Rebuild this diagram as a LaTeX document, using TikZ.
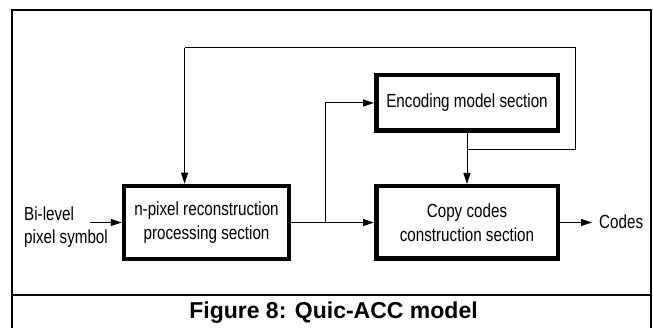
\documentclass[tikz,border=0pt]{standalone}
\usepackage{fontspec}
\setmainfont{Liberation Sans}
\newfontfamily\cond{Liberation Sans}[FakeStretch=0.8]
\usetikzlibrary{arrows.meta}
\begin{document}
\begin{tikzpicture}[x=1pt,y=-1pt,
  blk/.style={draw,line width=4.5pt,align=center,inner sep=0pt,
    font=\cond\fontsize{19}{24}\selectfont},
  lbl/.style={inner sep=0pt,font=\cond\fontsize{19}{23}\selectfont},
  conn/.style={line width=1pt,-{Triangle[length=11pt,width=7pt]}},
  plain/.style={line width=1pt}]
\useasboundingbox (0,0) rectangle (653,328);
\fill[white] (0,0) rectangle (653,328);
% frame
\draw[line width=2pt] (12,330) -- (12,10) -- (651,10) -- (651,330);
\draw[line width=2pt] (12,295) -- (651,295);
\node[font=\bfseries\fontsize{23}{26}\selectfont] (cap) at (333.5,313) {Figure 8: Quic-ACC model};
% blocks
\node[blk,minimum width=165pt,minimum height=73pt] (npx) at (206.5,222.5) {n-pixel reconstruction\\processing section};
\node[blk,minimum width=181.5pt,minimum height=55.5pt] (enc) at (467,103) {Encoding model section};
\node[blk,minimum width=181.5pt,minimum height=72.5pt] (copy) at (467,222.5) {Copy codes\\construction section};
% labels
\node[lbl,anchor=west,align=left] (in) at (24,227) {Bi-level\\pixel symbol};
\node[lbl,anchor=west] (out) at (599,222) {Codes};
\coordinate (inS) at (90,222.5);
\coordinate (outE) at (592,222.5);
\coordinate (br) at (325,222.5);
\coordinate (jn) at (467,150);
\coordinate (fbR) at (575,47.7);
\coordinate (fbL) at (184.6,47.7);
% connectors
\draw[conn] (inS) -- (npx.west);
\draw[conn] (npx.east) -- (copy.west);
\draw[conn] (br) |- (enc.west);
\draw[conn] (enc.south) -- (copy.north);
\draw[plain] (jn) -| (fbR) -- (fbL);
\draw[conn] (fbL) -- (fbL |- npx.north);
\draw[conn] (copy.east) -- (outE);
\end{tikzpicture}
\end{document}
